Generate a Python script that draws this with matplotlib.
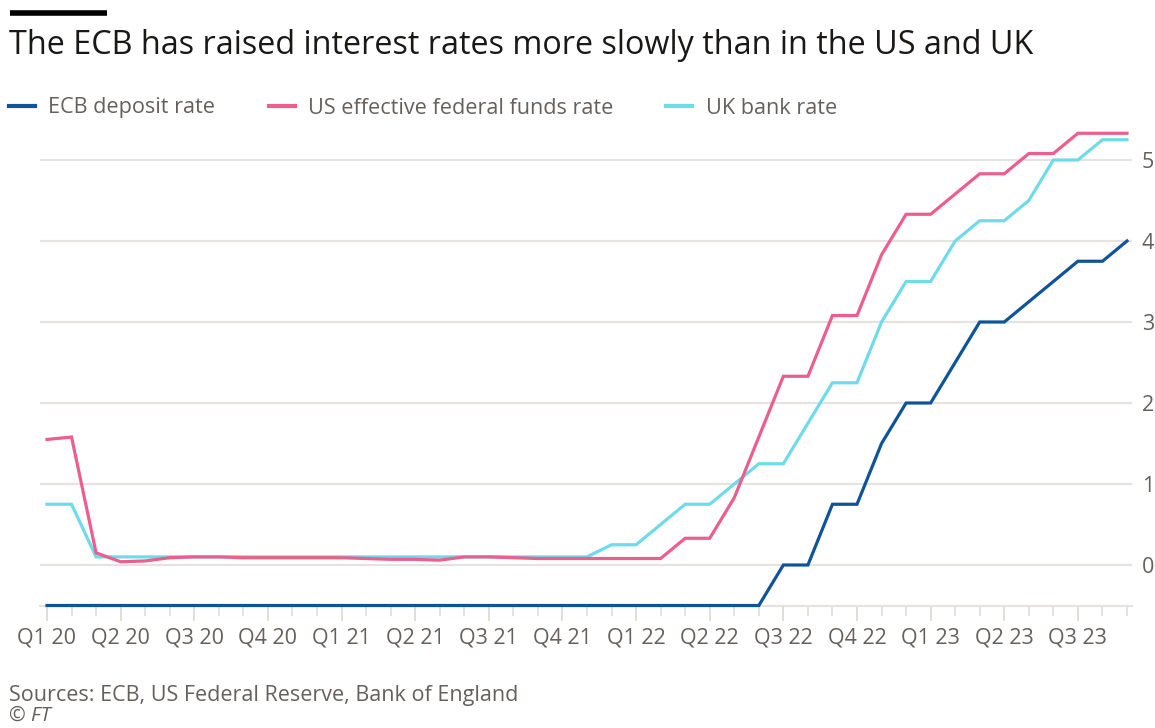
import matplotlib
matplotlib.use("Agg")
import matplotlib.pyplot as plt
from matplotlib.lines import Line2D
from matplotlib.ticker import FixedLocator

plt.rcParams['font.family'] = ['Open Sans', 'DejaVu Sans']

quarter_labels = ["Q1 20", "Q2 20", "Q3 20", "Q4 20", "Q1 21", "Q2 21", "Q3 21", "Q4 21",
                  "Q1 22", "Q2 22", "Q3 22", "Q4 22", "Q1 23", "Q2 23", "Q3 23"]

# monthly values, Jan 2020 .. Sep 2023
ecb = [-0.5, -0.5, -0.5, -0.5, -0.5, -0.5, -0.5, -0.5, -0.5, -0.5, -0.5, -0.5,
       -0.5, -0.5, -0.5, -0.5, -0.5, -0.5, -0.5, -0.5, -0.5, -0.5, -0.5, -0.5,
       -0.5, -0.5, -0.5, -0.5, -0.5, -0.5, 0.0, 0.0, 0.75, 0.75, 1.5, 2.0,
       2.0, 2.5, 3.0, 3.0, 3.25, 3.5, 3.75, 3.75, 4.0]
us = [1.55, 1.58, 0.15, 0.04, 0.05, 0.09, 0.10, 0.10, 0.09, 0.09, 0.09, 0.09,
      0.09, 0.08, 0.07, 0.07, 0.06, 0.10, 0.10, 0.09, 0.08, 0.08, 0.08, 0.08,
      0.08, 0.08, 0.33, 0.33, 0.83, 1.58, 2.33, 2.33, 3.08, 3.08, 3.83, 4.33,
      4.33, 4.58, 4.83, 4.83, 5.08, 5.08, 5.33, 5.33, 5.33]
uk = [0.75, 0.75, 0.10, 0.10, 0.10, 0.10, 0.10, 0.10, 0.10, 0.10, 0.10, 0.10,
      0.10, 0.10, 0.10, 0.10, 0.10, 0.10, 0.10, 0.10, 0.10, 0.10, 0.10, 0.25,
      0.25, 0.50, 0.75, 0.75, 1.00, 1.25, 1.25, 1.75, 2.25, 2.25, 3.00, 3.50,
      3.50, 4.00, 4.25, 4.25, 4.50, 5.00, 5.00, 5.25, 5.25]
series_names = ["ECB deposit rate", "US effective federal funds rate", "UK bank rate"]
y_ticks = [0, 1, 2, 3, 4, 5]

c_ecb = "#0f5499"
c_us = "#eb5e8d"
c_uk = "#70dbe8"
grid_c = "#e6e2df"
text_c = "#66605c"

W, H = 1155, 728
fig = plt.figure(figsize=(W / 100, H / 100), dpi=100)
fig.patch.set_facecolor("white")

ax = fig.add_axes([40 / W, 1 - 605.5 / H, (1132 - 40) / W, (605.5 - 119.5) / H])
ax.set_facecolor("white")

x = list(range(len(ecb)))
lw = 2.3
ax.plot(x, uk, color=c_uk, lw=lw, zorder=3, clip_on=False, solid_joinstyle="miter")
ax.plot(x, us, color=c_us, lw=lw, zorder=4, clip_on=False, solid_joinstyle="miter")
ax.plot(x, ecb, color=c_ecb, lw=lw, zorder=5, clip_on=False, solid_joinstyle="miter")

ax.set_xlim(-7 / 24.55, len(ecb) - 1 + 5 / 24.55)
ax.set_ylim(-0.5, 5.5)

for s in ["top", "left", "right"]:
    ax.spines[s].set_visible(False)
ax.spines["bottom"].set_color(grid_c)
ax.spines["bottom"].set_linewidth(1.5)

for yv in y_ticks:
    ax.axhline(yv, color=grid_c, lw=1.5, zorder=1)

ax.yaxis.tick_right()
ax.set_yticks(y_ticks)
ax.set_yticklabels([str(v) for v in y_ticks])
ax.tick_params(axis="y", length=0, pad=7, labelsize=15.5, labelcolor=text_c)

qpos = list(range(0, len(ecb), 3))
ax.set_xticks(qpos)
ax.set_xticklabels(quarter_labels)
ax.xaxis.set_minor_locator(FixedLocator(x))
ax.tick_params(axis="x", which="major", length=11, width=1.3, color="#dedad6",
               pad=5, labelsize=15.5, labelcolor=text_c)
ax.tick_params(axis="x", which="minor", length=7, width=1.3, color="#e3dfdb")

# title bar and title
fig.add_artist(Line2D([10 / W, 107 / W], [1 - 12.5 / H, 1 - 12.5 / H],
                      color="black", lw=4, solid_capstyle="butt"))
fig.text(9 / W, 1 - 45.5 / H, "The ECB has raised interest rates more slowly than in the US and UK",
         fontsize=23.3, color="#1a1817", va="center", ha="left")

handles = [Line2D([], [], color=c, lw=3) for c in (c_ecb, c_us, c_uk)]
fig.legend(handles, series_names, loc="center left",
           bbox_to_anchor=(9 / W, 1 - 108 / H), ncol=3, frameon=False,
           fontsize=15.6, labelcolor=text_c, handlelength=1.2, handletextpad=0.62,
           columnspacing=2.45, borderaxespad=0, borderpad=0)

fig.text(9 / W, 1 - 696 / H, "Sources: ECB, US Federal Reserve, Bank of England",
         fontsize=15.5, color=text_c, va="center", ha="left")
fig.text(9 / W, 1 - 716 / H, "© FT", fontsize=14.5, color=text_c, va="center",
         ha="left", style="italic")

fig.savefig("out.png", dpi=100, facecolor="white")
